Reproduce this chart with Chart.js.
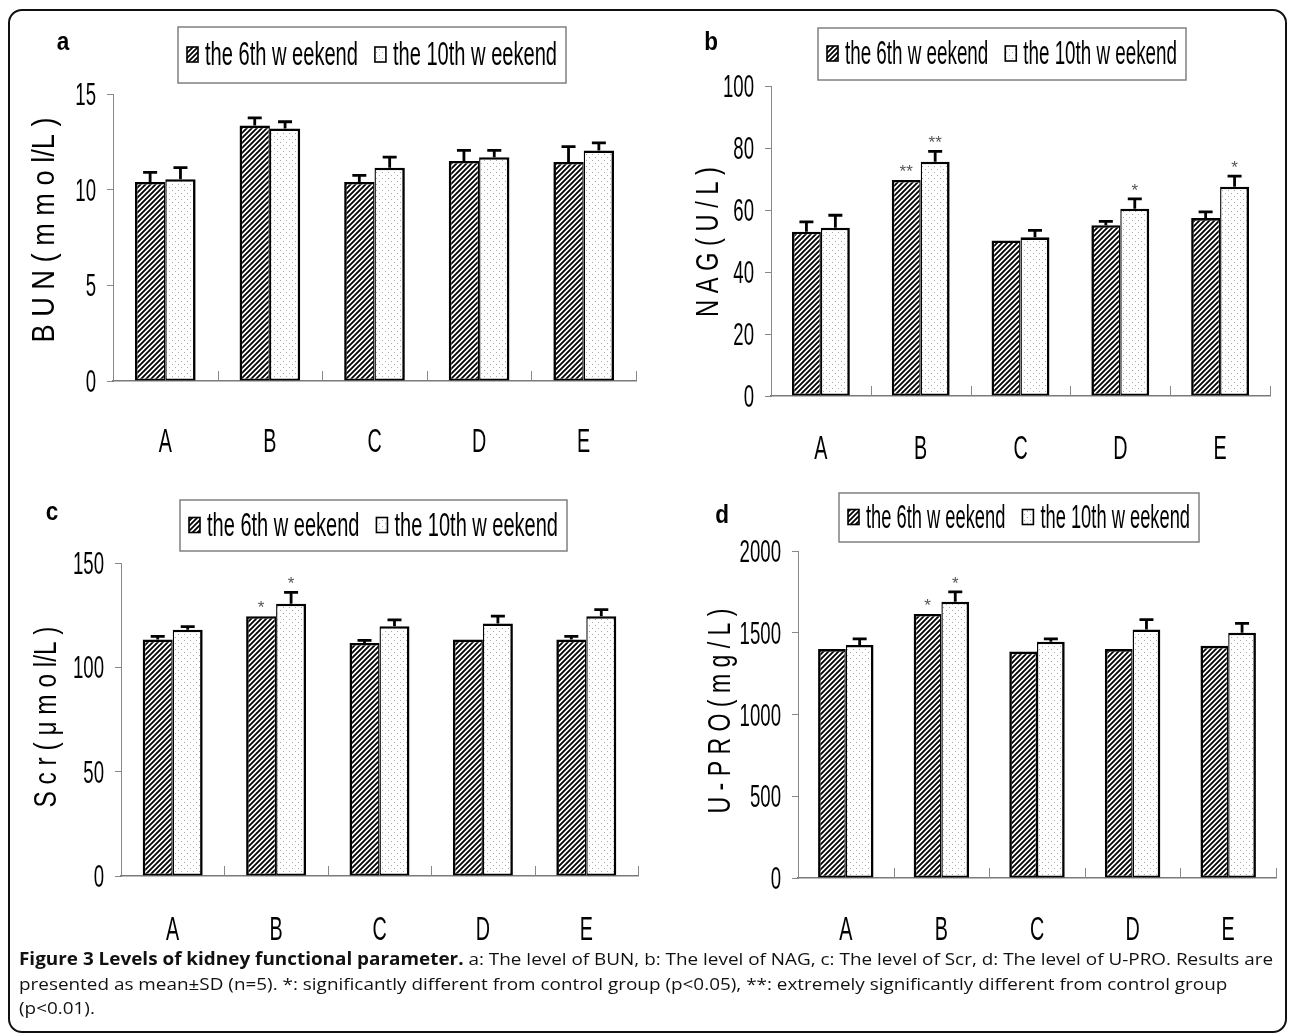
<!DOCTYPE html>
<html>
<head>
<meta charset="utf-8">
<script src="https://cdn.jsdelivr.net/npm/chart.js@4.4.1/dist/chart.umd.min.js"></script>
<style>
  html, body { margin: 0; padding: 0; background: #fff; }
  #page { position: relative; width: 1293px; height: 1035px; overflow: hidden; }
  #frame { position: absolute; left: 8px; top: 9px; width: 1275px; height: 1020px;
           border: 2px solid #111; border-radius: 14px; }
  #page canvas { position: absolute; left: 0; top: 0; }
  #caption { position: absolute; left: 19px; top: 947px; font-family: 'Open Sans', sans-serif;
             font-size: 17px; line-height: 24.5px; white-space: nowrap; color: #111;
             transform-origin: 0 0; }
  #caption b { font-weight: 700; }
</style>
</head>
<body>
<div id="page">
  <div id="frame"></div>
  <canvas id="panelA" width="1293" height="1035"></canvas>
  <canvas id="panelB" width="1293" height="1035"></canvas>
  <canvas id="panelC" width="1293" height="1035"></canvas>
  <canvas id="panelD" width="1293" height="1035"></canvas>
  <div id="caption">
    <span id="capLine1"><b>Figure 3 Levels of kidney functional parameter.</b> a: The level of BUN, b: The level of NAG, c: The level of Scr, d: The level of U-PRO. Results are</span><br>
    presented as mean±SD (n=5). *: significantly different from control group (p&lt;0.05), **: extremely significantly different from control group<br>
    (p&lt;0.01).
  </div>
</div>
<script>
// ---- data ----
const groups = ['A', 'B', 'C', 'D', 'E'];
const seriesNames = ['the 6th w eekend', 'the 10th w eekend'];

// a: BUN (mmol/L)
const bunWeek6  = [10.4, 13.35, 10.4, 11.5, 11.45];
const bunWeek10 = [10.55, 13.2, 11.15, 11.7, 12.05];
const bunSd6    = [0.5, 0.4, 0.35, 0.55, 0.8];
const bunSd10   = [0.6, 0.35, 0.55, 0.35, 0.4];
const bunTicks  = [0, 5, 10, 15];

// b: NAG (U/L)
const nagWeek6  = [53, 69.7, 50.2, 55.1, 57.4];
const nagWeek10 = [54.3, 75.6, 51.2, 60.4, 67.5];
const nagSd6    = [3.2, 0, 0, 1.2, 2.0];
const nagSd10   = [4.0, 3.3, 2.2, 3.2, 3.4];
const nagMark6  = ['', '**', '', '', ''];
const nagMark10 = ['', '**', '', '*', '*'];
const nagTicks  = [0, 20, 40, 60, 80, 100];

// c: Scr (umol/L)
const scrWeek6  = [113.3, 124.5, 111.7, 113.3, 113.3];
const scrWeek10 = [118, 130.5, 119.7, 121, 124.5];
const scrSd6    = [1.5, 0, 1.2, 0, 1.5];
const scrSd10   = [1.5, 5.4, 3.0, 3.5, 3.2];
const scrMark6  = ['', '*', '', '', ''];
const scrMark10 = ['', '*', '', '', ''];
const scrTicks  = [0, 50, 100, 150];

// d: U-PRO (mg/L)
const uproWeek6  = [1400, 1615, 1385, 1400, 1420];
const uproWeek10 = [1425, 1690, 1445, 1520, 1500];
const uproSd6    = [0, 0, 0, 0, 0];
const uproSd10   = [37, 60, 18, 60, 57];
const uproMark6  = ['', '*', '', '', ''];
const uproMark10 = ['', '*', '', '', ''];
const uproTicks  = [0, 500, 1000, 1500, 2000];

// ---- layout of the four panels (page pixels) ----
const panels = [
  { id: 'panelA', letter: 'a', letterX: 63, letterBase: 50,
    area: { l: 113, r: 636, t: 94, b: 381 }, ticks: bunTicks,
    legend: [178, 27, 566, 83], title: 'B U N ( m m o l/L )', titleX: 42, titleY: 230, titleLen: 225,
    labelY: 440, d6: bunWeek6, d10: bunWeek10, e6: bunSd6, e10: bunSd10, m6: null, m10: null },
  { id: 'panelB', letter: 'b', letterX: 711, letterBase: 50,
    area: { l: 771, r: 1270, t: 86, b: 396 }, ticks: nagTicks,
    legend: [818, 28, 1186, 80], title: 'N A G ( U / L )', titleX: 706, titleY: 242, titleLen: 150,
    labelY: 447, d6: nagWeek6, d10: nagWeek10, e6: nagSd6, e10: nagSd10, m6: nagMark6, m10: nagMark10 },
  { id: 'panelC', letter: 'c', letterX: 52, letterBase: 520,
    area: { l: 121, r: 638, t: 563, b: 876 }, ticks: scrTicks,
    legend: [180, 500, 567, 551], title: 'S c r ( μ m o l/L )', titleX: 44, titleY: 717, titleLen: 181,
    labelY: 928, d6: scrWeek6, d10: scrWeek10, e6: scrSd6, e10: scrSd10, m6: scrMark6, m10: scrMark10 },
  { id: 'panelD', letter: 'd', letterX: 722, letterBase: 523,
    area: { l: 798, r: 1276, t: 551, b: 878 }, ticks: uproTicks,
    legend: [839, 493, 1199, 542], title: 'U - P R O ( m g / L )', titleX: 718, titleY: 711, titleLen: 205,
    labelY: 928, d6: uproWeek6, d10: uproWeek10, e6: uproSd6, e10: uproSd10, m6: uproMark6, m10: uproMark10 },
];
const panelById = {};
panels.forEach(p => { panelById[p.id] = p; });

const FONT = '"Liberation Sans", Arial, sans-serif';

// hatched "/" fill for the 6th week, dotted fill for the 10th week
function hatchPattern(ctx) {
  const c = document.createElement('canvas');
  c.width = 5; c.height = 5;
  const g = c.getContext('2d');
  g.fillStyle = '#fff'; g.fillRect(0, 0, 5, 5);
  g.strokeStyle = '#000'; g.lineWidth = 1.8;
  g.beginPath();
  g.moveTo(0, 5); g.lineTo(5, 0);
  g.moveTo(-2.5, 2.5); g.lineTo(2.5, -2.5);
  g.moveTo(2.5, 7.5); g.lineTo(7.5, 2.5);
  g.stroke();
  return ctx.createPattern(c, 'repeat');
}
function dotPattern(ctx) {
  const c = document.createElement('canvas');
  c.width = 6; c.height = 6;
  const g = c.getContext('2d');
  g.fillStyle = '#fff'; g.fillRect(0, 0, 6, 6);
  g.fillStyle = '#a8a8a8';
  g.fillRect(1, 1, 1, 1);
  g.fillRect(4, 4, 1, 1);
  return ctx.createPattern(c, 'repeat');
}

// narrow, tall text like the original figure
function squeeze(ctx, text, x, baseY, size, sx, align, bold) {
  ctx.save();
  ctx.font = (bold ? 'bold ' : '') + size + 'px ' + FONT;
  ctx.textAlign = 'left';
  ctx.textBaseline = 'alphabetic';
  const w = ctx.measureText(text).width * sx;
  let x0 = x;
  if (align === 'center') x0 = x - w / 2;
  else if (align === 'right') x0 = x - w;
  ctx.translate(x0, baseY);
  ctx.scale(sx, 1);
  ctx.fillText(text, 0, 0);
  ctx.restore();
  return w;
}

function drawLegend(ctx, box, fills) {
  const [x0, y0, x1, y1] = box;
  ctx.save();
  ctx.strokeStyle = '#808080';
  ctx.lineWidth = 1.5;
  ctx.strokeRect(x0, y0, x1 - x0, y1 - y0);
  const size = 34;
  ctx.font = size + 'px ' + FONT;
  const w1 = ctx.measureText(seriesNames[0]).width;
  const w2 = ctx.measureText(seriesNames[1]).width;
  const pad = 9, icon = 11, gap = 7, mid = 17;
  const sx = (x1 - x0 - 2 * pad - 2 * icon - 2 * gap - mid) / (w1 + w2);
  const cy = (y0 + y1) / 2;
  let x = x0 + pad;
  for (let k = 0; k < 2; k++) {
    ctx.fillStyle = fills[k];
    ctx.fillRect(x, cy - 8, icon, 15);
    ctx.strokeStyle = '#000';
    ctx.lineWidth = 1.6;
    ctx.strokeRect(x, cy - 8, icon, 15);
    x += icon + gap;
    ctx.fillStyle = '#000';
    x += squeeze(ctx, seriesNames[k], x, cy + 10, size, sx, 'left', false) + mid;
  }
  ctx.restore();
}

const panelDecor = {
  id: 'panelDecor',
  afterDraw(chart) {
    const p = panelById[chart.canvas.id];
    const ctx = chart.ctx;
    const xs = chart.scales.x, ys = chart.scales.y;
    ctx.save();

    // error bars (upper half only) and significance stars
    chart.data.datasets.forEach((ds, di) => {
      const meta = chart.getDatasetMeta(di);
      meta.data.forEach((bar, i) => {
        const sd = ds.sd[i];
        const yTop = ys.getPixelForValue(ds.data[i] + sd);
        if (sd > 0) {
          ctx.strokeStyle = '#000';
          ctx.lineWidth = 2.8;
          ctx.beginPath();
          ctx.moveTo(bar.x, bar.y);
          ctx.lineTo(bar.x, yTop);
          ctx.moveTo(bar.x - 7, yTop);
          ctx.lineTo(bar.x + 7, yTop);
          ctx.stroke();
        }
        const mark = ds.marks ? ds.marks[i] : '';
        if (mark) {
          ctx.fillStyle = '#555';
          ctx.font = '17px ' + FONT;
          ctx.textAlign = 'center';
          ctx.textBaseline = 'alphabetic';
          ctx.fillText(mark, bar.x, yTop - 3);
        }
      });
    });

    // short upward ticks at the category boundaries
    const n = groups.length;
    ctx.strokeStyle = '#888';
    ctx.lineWidth = 1;
    ctx.beginPath();
    for (let i = 1; i <= n; i++) {
      const x = Math.round(xs.left + i * (xs.right - xs.left) / n) + 0.5;
      ctx.moveTo(x, xs.top);
      ctx.lineTo(x, xs.top - 10);
    }
    ctx.stroke();

    // y tick labels
    ctx.fillStyle = '#000';
    ys.ticks.forEach(t => {
      const y = ys.getPixelForValue(t.value);
      squeeze(ctx, String(t.value), ys.right - 17, y + 11, 31, 0.6, 'right', false);
    });

    // category labels
    groups.forEach((g, i) => {
      squeeze(ctx, g, xs.getPixelForValue(i), p.labelY + 12, 34, 0.58, 'center', false);
    });

    // rotated axis title
    ctx.save();
    ctx.translate(p.titleX, p.titleY);
    ctx.rotate(-Math.PI / 2);
    ctx.font = '32px ' + FONT;
    const tw = ctx.measureText(p.title).width;
    ctx.scale(p.titleLen / tw, 1);
    ctx.textAlign = 'center';
    ctx.textBaseline = 'alphabetic';
    ctx.fillStyle = '#000';
    ctx.fillText(p.title, 0, 11.5);
    ctx.restore();

    // panel letter
    squeeze(ctx, p.letter, p.letterX, p.letterBase, 25, 0.9, 'center', true);

    // legend
    drawLegend(ctx, p.legend, chart.data.datasets.map(d => d.backgroundColor));
    ctx.restore();
  }
};

function makeChart(p) {
  const canvas = document.getElementById(p.id);
  const ctx = canvas.getContext('2d');
  const W = canvas.width, H = canvas.height;
  const top = p.ticks[p.ticks.length - 1];
  return new Chart(ctx, {
    type: 'bar',
    data: {
      labels: groups,
      datasets: [{
        label: seriesNames[0],
        data: p.d6, sd: p.e6, marks: p.m6,
        backgroundColor: hatchPattern(ctx),
        borderColor: '#000',
        borderWidth: { top: 2.6, left: 2.6, right: 1.4, bottom: 2 },
        borderSkipped: false,
      }, {
        label: seriesNames[1],
        data: p.d10, sd: p.e10, marks: p.m10,
        backgroundColor: dotPattern(ctx),
        borderColor: '#000',
        borderWidth: { top: 2.6, left: 1.4, right: 2.6, bottom: 2 },
        borderSkipped: false,
      }],
    },
    options: {
      responsive: false,
      animation: false,
      devicePixelRatio: 1,
      events: [],
      layout: { padding: { left: p.area.l - 6, right: W - p.area.r, top: p.area.t, bottom: H - p.area.b - 1 } },
      datasets: { bar: { categoryPercentage: 0.58, barPercentage: 1.0 } },
      plugins: { legend: { display: false }, tooltip: { enabled: false } },
      scales: {
        x: {
          grid: { display: false },
          border: { display: true, color: '#7a7a7a', width: 1.5 },
          ticks: { display: false },
          afterFit: s => { s.height = 1; },
        },
        y: {
          min: 0, max: top,
          afterBuildTicks: s => { s.ticks = p.ticks.map(v => ({ value: v })); },
          ticks: { display: false },
          grid: { drawOnChartArea: false, drawTicks: true, tickLength: 6, color: '#888', lineWidth: 1 },
          border: { display: true, color: '#888', width: 1 },
          afterFit: s => { s.width = 6; },
        },
      },
    },
    plugins: [panelDecor],
  });
}

panels.forEach(makeChart);

// fit the caption's first line to the width of the original
const cap = document.getElementById('caption');
const line1 = document.getElementById('capLine1');
const k = 1254 / line1.getBoundingClientRect().width;
cap.style.transform = 'scaleX(' + k.toFixed(4) + ')';
</script>
</body>
</html>
